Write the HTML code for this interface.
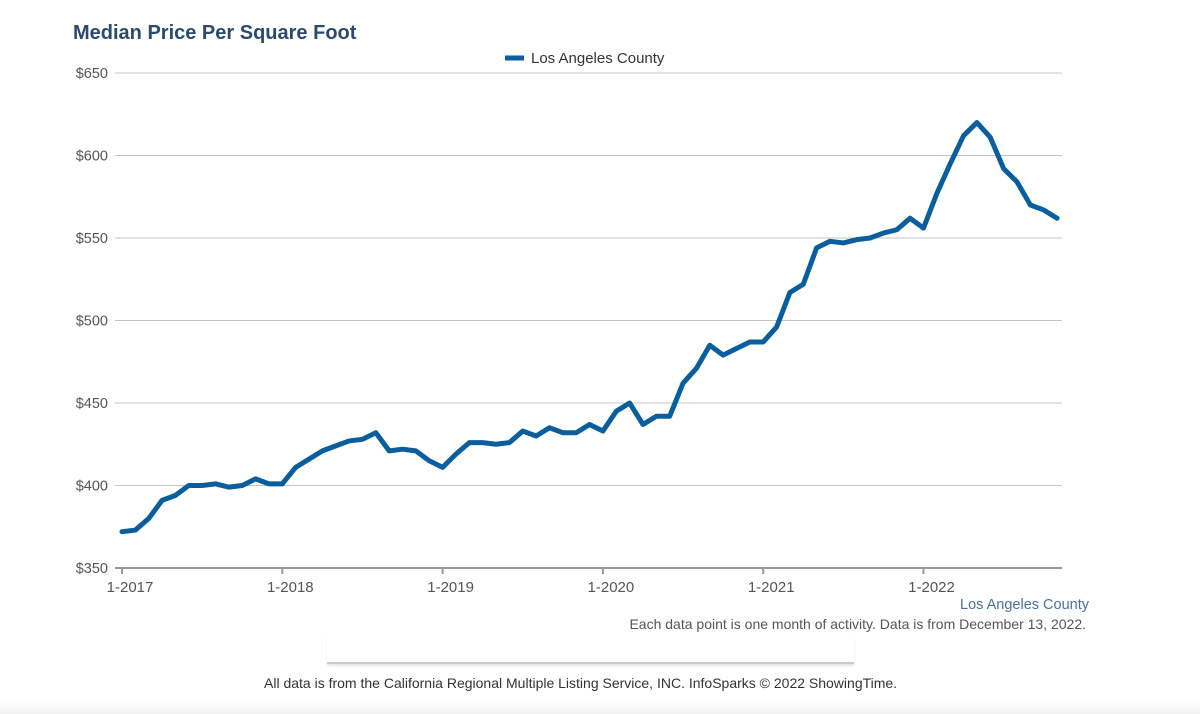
<!DOCTYPE html>
<html><head><meta charset="utf-8"><style>
body{margin:0;width:1200px;height:714px;background:#fff;font-family:"Liberation Sans",sans-serif;overflow:hidden;position:relative}
.t{position:absolute;white-space:nowrap}
</style></head><body>
<div class="t" style="left:73px;top:22px;font-size:20px;font-weight:bold;color:#2a4a6e">Median Price Per Square Foot</div>
<svg id="c" width="1200" height="714" style="position:absolute;left:0;top:0"></svg>
<div class="t" style="right:111px;top:597px;font-size:14.5px;color:#4a6fa0">Los Angeles County</div>
<div class="t" style="right:114px;top:616px;font-size:14px;color:#555">Each data point is one month of activity. Data is from December 13, 2022.</div>
<div style="position:absolute;left:327px;top:636px;width:527px;height:26px;border-bottom:2px solid #ccc;box-shadow:0 2px 2px rgba(0,0,0,0.1)"></div>
<div class="t" style="left:264px;top:675px;font-size:14px;color:#333">All data is from the California Regional Multiple Listing Service, INC. InfoSparks © 2022 ShowingTime.</div>
<div style="position:absolute;left:0;top:700px;width:1200px;height:14px;background:linear-gradient(#fff,#f2f2f2)"></div>
<script>
const yTicks=[350,400,450,500,550,600,650];
const xLabels=["1-2017","1-2018","1-2019","1-2020","1-2021","1-2022"];
const values=[372,373,380,391,394,400,400,401,399,400,404,401,
401,411,416,421,424,427,428,432,421,422,421,415,
411,419,426,426,425,426,433,430,435,432,432,437,
433,445,450,437,442,442,462,471,485,479,483,487,
487,496,517,522,544,548,547,549,550,553,555,562,
556,577,595,612,620,611,592,584,570,567,562];
const NS="http://www.w3.org/2000/svg",svg=document.getElementById('c');
const x0=122,mw=160.3/12,yT=73,yB=568,vmin=350,vmax=650,xL=115,xR=1062;
const X=i=>x0+i*mw, Y=v=>yB-(v-vmin)/(vmax-vmin)*(yB-yT);
function mk(t,a,txt){const e=document.createElementNS(NS,t);for(const k in a)e.setAttribute(k,a[k]);if(txt!=null)e.textContent=txt;svg.appendChild(e);return e;}
yTicks.forEach(v=>{
 const g=mk('line',{x1:xL,x2:xR,y1:Y(v),y2:Y(v),stroke:v===350?'#999':'#c4c4c4','stroke-width':v===350?2:1});
 
 
 const t=mk('text',{x:108,y:Y(v)+5,'text-anchor':'end','font-size':14.5,fill:'#555','font-family':'Liberation Sans, sans-serif'},'$'+v);
 
 
});
xLabels.forEach((l,k)=>{
 const x=X(k*12);
 const tk=mk('line',{x1:x,x2:x,y1:568,y2:574,stroke:'#999','stroke-width':2});
 
 
 const t=mk('text',{x:x+8,y:592,'text-anchor':'middle','font-size':15,fill:'#555','font-family':'Liberation Sans, sans-serif'},l);
 
 
});
const p=mk('polyline',{points:values.map((v,i)=>X(i)+','+Y(v)).join(' '),fill:'none',stroke:'#0a5e9e','stroke-width':5,'stroke-linejoin':'round','stroke-linecap':'round'});


const lg=mk('line',{x1:505,x2:524,y1:58,y2:58,stroke:'#0a5e9e','stroke-width':5});


const lt=mk('text',{x:531,y:63,'font-size':15,fill:'#333','font-family':'Liberation Sans, sans-serif'},'Los Angeles County');


</script>
</body></html>
